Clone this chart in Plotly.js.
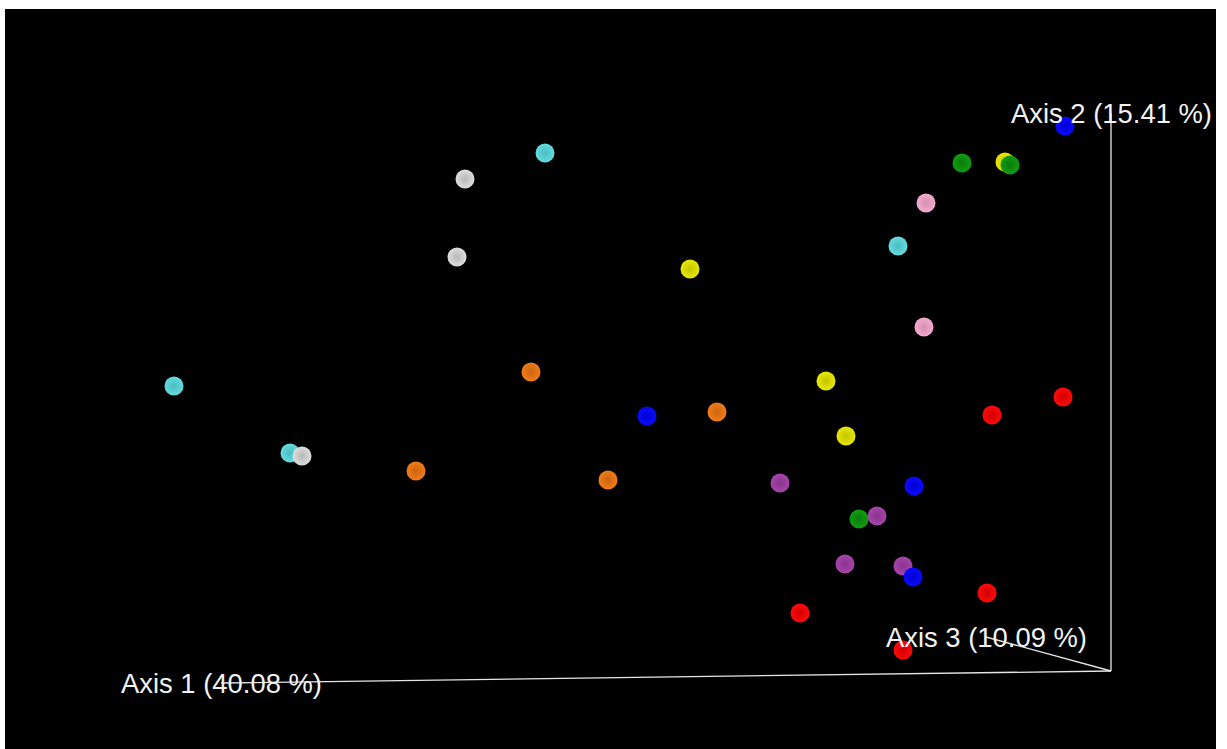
<!DOCTYPE html>
<html>
<head>
<meta charset="utf-8">
<script src="https://cdn.plot.ly/plotly-3.0.1.min.js"></script>
<style>html,body{margin:0;padding:0;background:#fff;}#chart{width:1227px;height:749px;}</style>
</head>
<body>
<div id="chart"></div>
<script>
// Projected sample positions (screen units)
const groupNames = ['cyan', 'yellow', 'orange', 'pink', 'purple', 'red', 'grey', 'green', 'blue'];
const groupColors = ['#64dce0', '#e8e800', '#f27c18', '#f4aace', '#a645ab', '#ff0a0a', '#dedede', '#119c11', '#0a0aff'];
const groupEdge   = ['#4cbcc0', '#c4c400', '#cc6410', '#d490b0', '#8a338e', '#d00000', '#b8b8b8', '#0a7c0a', '#0000d0'];

const cyanX   = [545, 174, 290, 898];
const cyanY   = [153, 386, 453, 246];
const yellowX = [690, 826, 846, 1005];
const yellowY = [269, 381, 436, 162];
const orangeX = [531, 717, 416, 608];
const orangeY = [372, 412, 471, 480];
const pinkX   = [926, 924];
const pinkY   = [203, 327];
const purpleX = [780, 877, 845, 903];
const purpleY = [483, 516, 564, 566];
const redX    = [1063, 992, 987, 800, 903];
const redY    = [397, 415, 593, 613, 650];
const greyX   = [465, 457, 302];
const greyY   = [179, 257, 456];
const greenX  = [962, 1010, 859];
const greenY  = [163, 165, 519];
const blueX   = [1065, 647, 914, 913];
const blueY   = [126, 416, 486, 577];

const xs = [cyanX, yellowX, orangeX, pinkX, purpleX, redX, greyX, greenX, blueX];
const ys = [cyanY, yellowY, orangeY, pinkY, purpleY, redY, greyY, greenY, blueY];

const axisLabels = ['Axis 1 (40.08 %)', 'Axis 2 (15.41 %)', 'Axis 3 (10.09 %)'];

const traces = groupNames.map((g, i) => ({
  type: 'scatter',
  mode: 'markers',
  name: g,
  x: xs[i],
  y: ys[i],
  marker: {
    size: 19,
    color: groupColors[i],
    line: {width: 0},
    gradient: {type: 'radial', color: groupEdge[i]}
  },
  hoverinfo: 'skip'
}));

const origin = [1111, 671];
const ends = [[221, 683], [1111, 113], [986, 637]];

const lineStyle = {color: 'rgba(255,255,255,0.9)', width: 1.3};
const shapes = ends.map(e => ({
  type: 'line', xref: 'x', yref: 'y', layer: 'below',
  x0: origin[0], y0: origin[1], x1: e[0], y1: e[1],
  line: lineStyle
}));

const annotations = ends.map((e, i) => ({
  x: e[0], y: e[1], xref: 'x', yref: 'y',
  text: axisLabels[i], showarrow: false,
  xanchor: 'center', yanchor: 'middle',
  font: {family: 'Liberation Sans, Arial, sans-serif', size: 27.4, color: '#f2f2f2'}
}));

const layout = {
  width: 1227, height: 749,
  margin: {l: 5, r: 11, t: 9, b: 0, pad: 0},
  paper_bgcolor: '#ffffff',
  plot_bgcolor: '#000000',
  showlegend: false,
  xaxis: {range: [5, 1216], visible: false, fixedrange: true},
  yaxis: {range: [749, 9], visible: false, fixedrange: true},
  shapes: shapes,
  annotations: annotations
};

Plotly.newPlot('chart', traces, layout, {displayModeBar: false, staticPlot: true});
</script>
</body>
</html>
